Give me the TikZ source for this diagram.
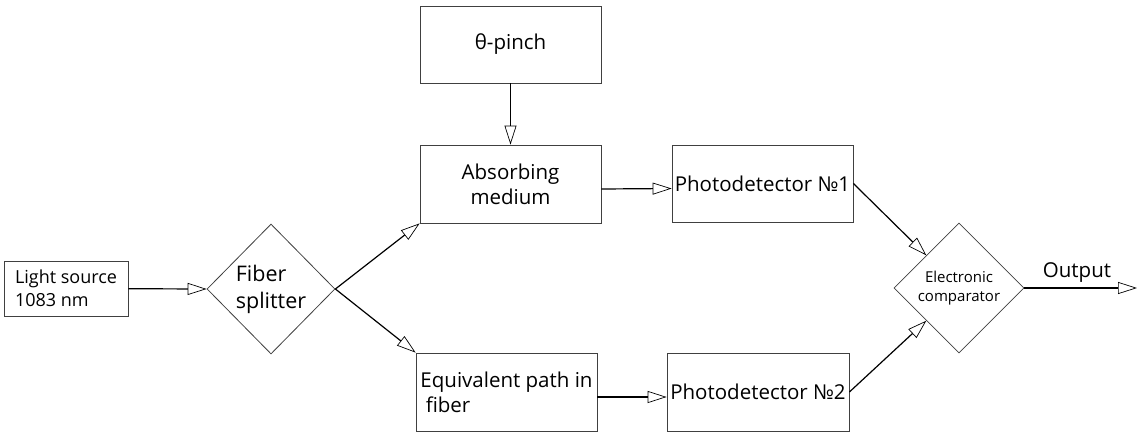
\documentclass[tikz,border=0pt]{standalone}
\usepackage{fontspec}
\setmainfont{Open Sans}
\usetikzlibrary{arrows.meta,shapes.geometric}
\begin{document}
\begin{tikzpicture}[x=1pt,y=-1pt,
  box/.style={draw=black!75,line width=0.8pt,rectangle,inner sep=0pt,align=center},
  dia/.style={draw=black!75,line width=0.8pt,diamond,inner sep=0pt,align=center},
  conn/.style={draw=black,line width=1.2pt,-{Triangle[open,length=19pt,width=12pt,line width=0.7pt]}},
  big/.style={font=\fontsize{20.5}{25}\selectfont}]
\useasboundingbox (0,0) rectangle (1137,434);
\node[box,align=left,minimum width=124pt,minimum height=55pt,font=\fontsize{18}{23}\selectfont] (light) at (66,288.5) {Light source\\1083 nm};
\node[dia,big,align=left,minimum width=128pt,minimum height=130pt,font=\fontsize{21.5}{27}\selectfont] (split) at (271,289) {Fiber\\splitter};
\node[box,big,minimum width=181pt,minimum height=77pt] (theta) at (510.5,44.5) {θ-pinch};
\node[box,big,minimum width=181pt,minimum height=78pt] (absorb) at (510.5,184) {Absorbing\\medium};
\node[box,big,minimum width=181pt,minimum height=77pt] (pd1) at (762.5,183.5) {Photodetector №1};
\node[box,big,align=left,minimum width=181pt,minimum height=78pt] (equiv) at (506.5,392) {Equivalent path in\\\ fiber};
\node[box,big,minimum width=182pt,minimum height=78pt] (pd2) at (758,392) {Photodetector №2};
\node[dia,minimum width=130pt,minimum height=130pt,font=\fontsize{15}{19}\selectfont] (comp) at (959,288) {Electronic\\comparator};
\coordinate (out) at (1137,288);
\node[big,anchor=base] (outlbl) at (1077,277) {Output};
\draw[conn] (light) -- (split.west);
\draw[conn] (theta) -- (absorb);
\draw[conn] (split.east) -- (absorb.south west);
\draw[conn] (split.east) -- (equiv.north west);
\draw[conn] ([yshift=-5pt]absorb.east) -- ([yshift=-5pt]pd1.west);
\draw[conn] ([yshift=-5pt]equiv.east) -- ([yshift=-5pt]pd2.west);
\draw[conn] (pd1.east) -- (comp.north west);
\draw[conn] (pd2.east) -- (comp.south west);
\draw[conn] (comp.east) -- (out);
\end{tikzpicture}
\end{document}
